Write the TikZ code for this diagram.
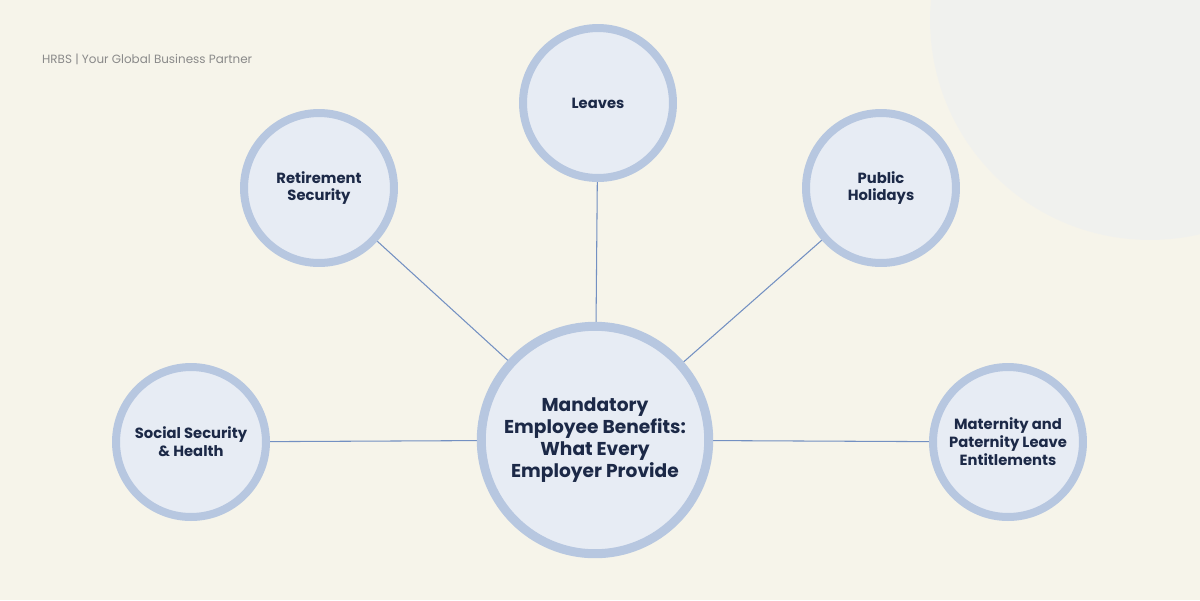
\documentclass[tikz,border=0pt]{standalone}
\usepackage{fontspec}
\setmainfont{Poppins}
\usetikzlibrary{positioning, backgrounds}
\definecolor{bgcream}{HTML}{F6F4EA}
\definecolor{bgblue}{HTML}{EAEEF4}
\definecolor{ringblue}{HTML}{B7C7E0}
\definecolor{fillblue}{HTML}{E7ECF4}
\definecolor{linkblue}{HTML}{7390C2}
\definecolor{navy}{HTML}{1C2947}
\definecolor{greytext}{HTML}{8A8A8A}
\begin{document}
\begin{tikzpicture}[
            x = 0.02cm, y = -0.02cm, % one unit per reference pixel
            link/.style = {draw = linkblue, line width = 0.6pt},
            benefit/.style = {circle, draw = ringblue, fill = fillblue,
                line width = 0.16cm, minimum size = 3cm, align = center,
                text = navy, font = \fontsize{8.4}{10.2}\selectfont\bfseries},
            hub/.style = {benefit, line width = 0.18cm, minimum size = 4.55cm,
                font = \fontsize{10.6}{12.6}\selectfont\bfseries}
        ]
        \useasboundingbox (0,0) rectangle (1200,600);

        \node[anchor = west, text = greytext, font = \fontsize{6.8}{8}\selectfont] (brand) at (36,59) {HRBS | Your Global Business Partner};

        \node[hub] (main) at (595,440) {Mandatory\\Employee Benefits:\\What Every\\Employer Provide};
        \node[benefit] (leaves) at (598,103) {Leaves};
        \node[benefit] (retire) at (319,188) {Retirement\\Security};
        \node[benefit] (holidays) at (881,188) {Public\\Holidays};
        \node[benefit] (social) at (191,442) {Social Security\\\& Health};
        \node[benefit] (maternity) at (1008,442) {Maternity and\\Paternity Leave\\Entitlements};

        \begin{pgfonlayer}{background}
            % background
            \fill[bgcream] (0,0) rectangle (1200,600);
            \begin{scope}
                \clip (0,0) rectangle (1200,600);
                \fill[bgblue, opacity = 0.45] (1150,20) circle (4.4cm);
            \end{scope}
            % connectors behind the circles
            \foreach \n in {leaves, retire, holidays, social, maternity}
                \draw[link] (main.center) -- (\n.center);
        \end{pgfonlayer}
\end{tikzpicture}
\end{document}
